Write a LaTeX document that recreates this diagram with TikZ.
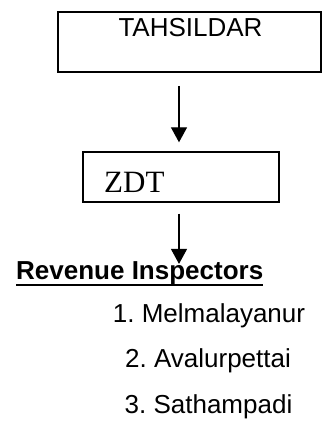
\documentclass[tikz,border=0pt]{standalone}
\usepackage{fontspec}
\setmainfont{Liberation Sans}
\newfontfamily\serifz{Liberation Serif}
\usetikzlibrary{arrows.meta}
\frenchspacing
\begin{document}
\begin{tikzpicture}[x=1pt,y=-1pt,
  boxa/.style={draw,line width=1.8pt,minimum width=263pt,minimum height=60pt,inner sep=0pt},
  boxb/.style={draw,line width=1.4pt,minimum width=196pt,minimum height=50pt,inner sep=0pt},
  lbl/.style={inner sep=0pt,font=\fontsize{26}{30}\selectfont},
  arr/.style={line width=1.3pt,-{Triangle[width=16pt,length=15pt]}}]
\useasboundingbox (0,0) rectangle (322,425);
\node[boxa] (tah) at (189.5,42) {};
\node[lbl,anchor=base] (tahtext) at (190.5,37) {TAHSILDAR};
\node[boxb] (zdt) at (181,177) {};
\node[inner sep=0pt,anchor=base west,font=\serifz\fontsize{31}{36}\selectfont] (zdttext) at (104,192) {ZDT};
\node[lbl,anchor=base west,font=\bfseries\fontsize{26}{30}\selectfont] (rev) at (16,279) {Revenue Inspectors};
\draw[line width=2pt] ([yshift=-6pt]rev.base west) -- ([yshift=-6pt]rev.base east);
\node[lbl,anchor=base] (l1) at (209,322) {1.\ Melmalayanur};
\node[lbl,anchor=base] (l2) at (208,367) {2.\ Avalurpettai};
\node[lbl,anchor=base] (l3) at (208.5,413) {3.\ Sathampadi};
\coordinate (ax) at (179,0);
\draw[arr,shorten <=13pt,shorten >=9pt] (tah.south -| ax) -- (zdt.north -| ax);
\draw[arr,shorten <=11pt,shorten >=-3pt] (zdt.south -| ax) -- (rev.north -| ax);
\end{tikzpicture}
\end{document}
